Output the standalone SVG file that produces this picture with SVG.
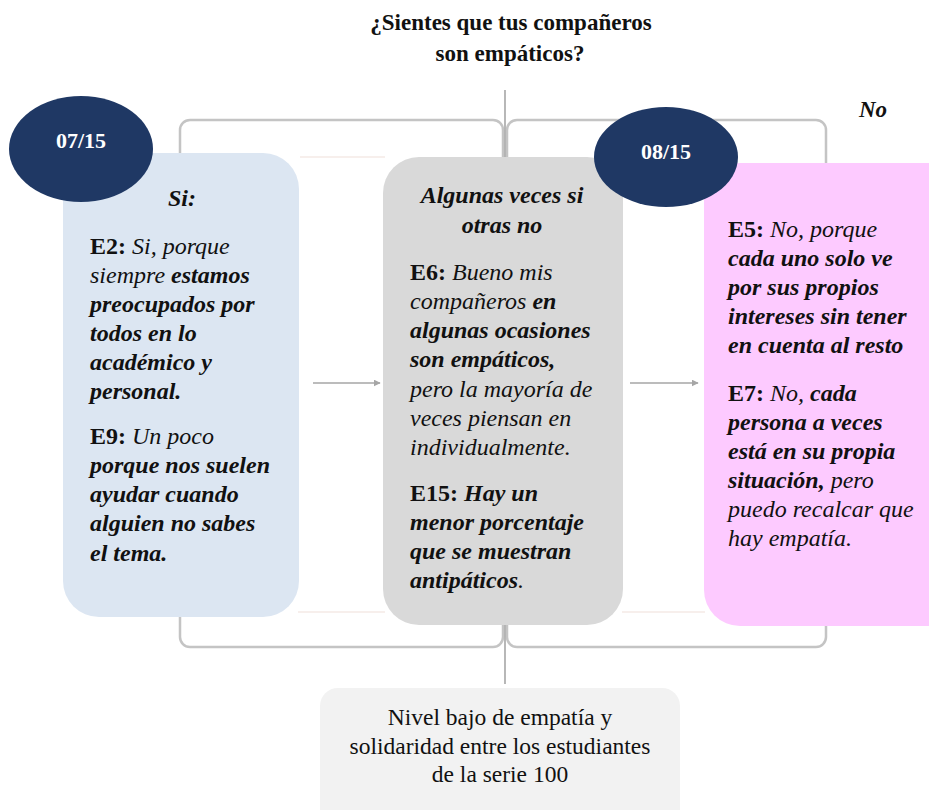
<svg xmlns="http://www.w3.org/2000/svg" width="929" height="810" viewBox="0 0 929 810" font-family="'Liberation Serif', 'DejaVu Serif', serif">
<defs>
<style>
text{font-family:'Liberation Serif','DejaVu Serif',serif;fill:#111;}
.t{font-size:23px;font-weight:bold;}
.body{font-size:24px;}
.b{font-weight:bold;font-style:normal;}
.bi{font-weight:bold;font-style:italic;}
.i{font-weight:normal;font-style:italic;}
.badge{font-size:22px;font-weight:bold;fill:#fff;}
.frame{fill:none;stroke:#C4C4C4;stroke-width:2.5;}
.conn{stroke:#A6A6A6;stroke-width:1.6;fill:none;}
.ell{fill:#1F3864;}
.faint{stroke:#F5EAE6;stroke-width:1.5;}
.nv{font-size:23.5px;}
</style>
<marker id="ah" viewBox="0 0 10 10" refX="9" refY="5" markerWidth="7" markerHeight="7" orient="auto" markerUnits="userSpaceOnUse">
<path d="M0,0 L10,5 L0,10 z" fill="#A6A6A6"/>
</marker>
</defs>
<rect width="929" height="810" fill="#fff"/>

<g id="title">
<text class="t" x="511" y="30" text-anchor="middle">¿Sientes que tus compañeros</text>
<text class="t" x="510" y="61" text-anchor="middle">son empáticos?</text>
</g>

<g id="connectors">
<rect class="frame" x="180" y="120" width="323" height="527" rx="10"/>
<rect class="frame" x="507" y="120" width="319" height="527" rx="10"/>
<line class="conn" x1="505" y1="90" x2="505" y2="165"/>
<line class="conn" x1="505" y1="622" x2="505" y2="684"/>
<line class="faint" x1="300" y1="157" x2="385" y2="157"/>
<line class="faint" x1="622" y1="160" x2="705" y2="160"/>
<line class="faint" x1="298" y1="612" x2="385" y2="612"/>
<line class="faint" x1="622" y1="612" x2="705" y2="612"/>
<line class="conn" x1="313" y1="383" x2="380" y2="383" marker-end="url(#ah)"/>
<line class="conn" x1="630" y1="383" x2="698" y2="383" marker-end="url(#ah)"/>
</g>

<g id="node-si">
<rect x="63" y="153" width="236" height="464" rx="36" fill="#DCE6F2"/>
<text class="body" x="182" y="206" text-anchor="middle"><tspan class="bi">Si:</tspan></text>
<text class="body" x="90" y="254"><tspan class="b">E2:</tspan><tspan class="i"> Si, porque</tspan></text>
<text class="body" x="90" y="283"><tspan class="i">siempre</tspan><tspan class="bi"> estamos</tspan></text>
<text class="body" x="90" y="312"><tspan class="bi">preocupados por</tspan></text>
<text class="body" x="90" y="341"><tspan class="bi">todos en lo</tspan></text>
<text class="body" x="90" y="370"><tspan class="bi">académico y</tspan></text>
<text class="body" x="90" y="399"><tspan class="bi">personal.</tspan></text>
<text class="body" x="90" y="444"><tspan class="b">E9:</tspan><tspan class="i"> Un poco</tspan></text>
<text class="body" x="90" y="473"><tspan class="bi">porque nos suelen</tspan></text>
<text class="body" x="90" y="502"><tspan class="bi">ayudar cuando</tspan></text>
<text class="body" x="90" y="531"><tspan class="bi">alguien no sabes</tspan></text>
<text class="body" x="90" y="561"><tspan class="bi">el tema.</tspan></text>
</g>

<g id="badge-0715">
<ellipse class="ell" cx="81" cy="149" rx="72" ry="53"/>
<text class="badge" x="81" y="148" text-anchor="middle">07/15</text>
</g>

<g id="node-algunas">
<rect x="383" y="157" width="240" height="468" rx="36" fill="#D9D9D9"/>
<text class="body" x="502" y="203" text-anchor="middle"><tspan class="bi">Algunas veces si</tspan></text>
<text class="body" x="502" y="233" text-anchor="middle"><tspan class="bi">otras no</tspan></text>
<text class="body" x="410" y="280"><tspan class="b">E6:</tspan><tspan class="i"> Bueno mis</tspan></text>
<text class="body" x="410" y="309"><tspan class="i">compañeros</tspan><tspan class="bi"> en</tspan></text>
<text class="body" x="410" y="338"><tspan class="bi">algunas ocasiones</tspan></text>
<text class="body" x="410" y="367"><tspan class="bi">son empáticos,</tspan></text>
<text class="body" x="410" y="397"><tspan class="i">pero la mayoría de</tspan></text>
<text class="body" x="410" y="426"><tspan class="i">veces piensan en</tspan></text>
<text class="body" x="410" y="455"><tspan class="i">individualmente.</tspan></text>
<text class="body" x="410" y="501"><tspan class="b">E15:</tspan><tspan class="bi"> Hay un</tspan></text>
<text class="body" x="410" y="530"><tspan class="bi">menor porcentaje</tspan></text>
<text class="body" x="410" y="559"><tspan class="bi">que se muestran</tspan></text>
<text class="body" x="410" y="588"><tspan class="bi">antipáticos</tspan><tspan class="i">.</tspan></text>
</g>

<g id="node-no">
<rect x="704" y="163" width="260" height="463" rx="36" fill="#FDCAFF"/>
<text class="body" x="728" y="237"><tspan class="b">E5:</tspan><tspan class="i"> No, porque</tspan></text>
<text class="body" x="728" y="266"><tspan class="bi">cada uno solo ve</tspan></text>
<text class="body" x="728" y="295"><tspan class="bi">por sus propios</tspan></text>
<text class="body" x="728" y="324"><tspan class="bi">intereses sin tener</tspan></text>
<text class="body" x="728" y="353"><tspan class="bi">en cuenta al resto</tspan></text>
<text class="body" x="728" y="401"><tspan class="b">E7:</tspan><tspan class="i"> No,</tspan><tspan class="bi"> cada</tspan></text>
<text class="body" x="728" y="430"><tspan class="bi">persona a veces</tspan></text>
<text class="body" x="728" y="459"><tspan class="bi">está en su propia</tspan></text>
<text class="body" x="728" y="488"><tspan class="bi">situación,</tspan><tspan class="i"> pero</tspan></text>
<text class="body" x="728" y="517"><tspan class="i">puedo recalcar que</tspan></text>
<text class="body" x="728" y="546"><tspan class="i">hay empatía.</tspan></text>
</g>

<g id="label-no">
<text class="t" x="873" y="117" text-anchor="middle" font-style="italic">No</text>
</g>

<g id="badge-0815">
<ellipse class="ell" cx="666" cy="157" rx="72" ry="50"/>
<text class="badge" x="666" y="159" text-anchor="middle">08/15</text>
</g>

<g id="node-nivel">
<rect x="320" y="688" width="360" height="140" rx="18" fill="#F2F2F2"/>
<text class="nv" x="500" y="725" text-anchor="middle">Nivel bajo de empatía y</text>
<text class="nv" x="500" y="754" text-anchor="middle">solidaridad entre los estudiantes</text>
<text class="nv" x="500" y="782" text-anchor="middle">de la serie 100</text>
</g>
</svg>
